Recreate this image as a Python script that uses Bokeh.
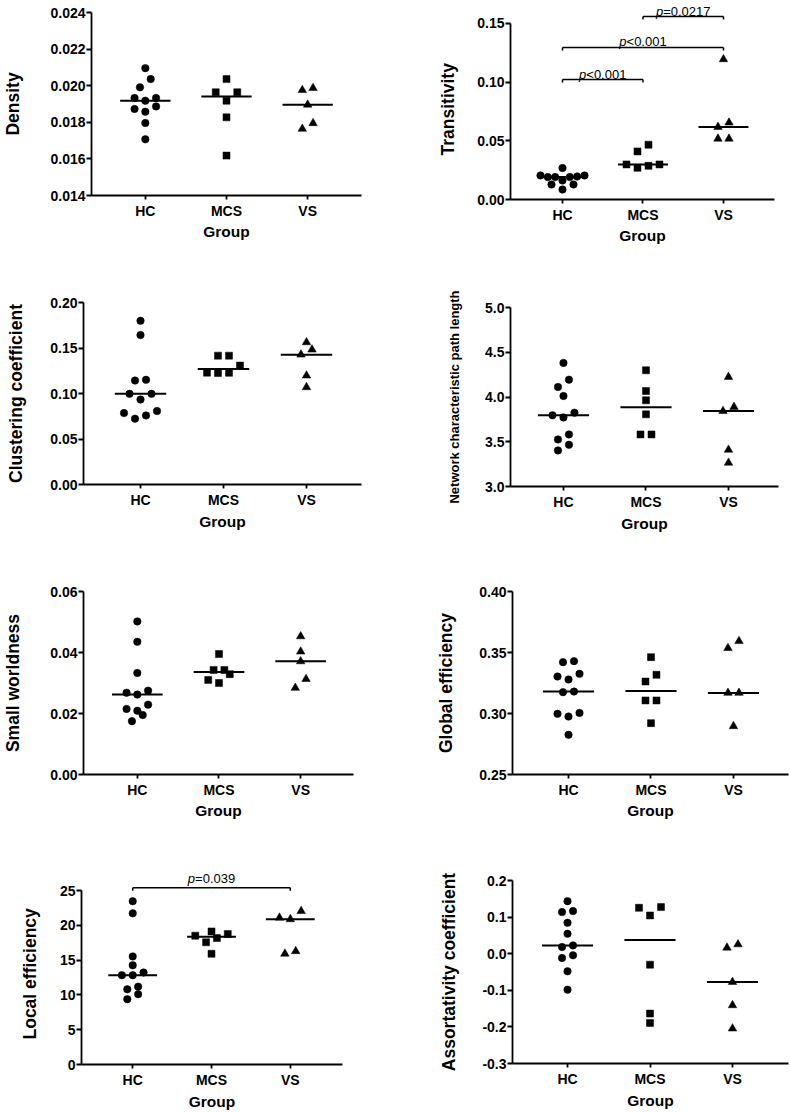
import numpy as np
from bokeh.plotting import figure
from bokeh.layouts import column, row
from bokeh.models import Range1d, FixedTicker, PrintfTickFormatter, Label, Arrow, Title
from bokeh.embed import file_html
from bokeh.resources import INLINE

# ---------------- data ----------------
groups = ["HC", "MCS", "VS"]
group_pos = [1, 2, 3]
x_label = "Group"

density_hc = [0.02096, 0.02036, 0.01991, 0.01933, 0.01918, 0.01933, 0.01887, 0.01873, 0.01858, 0.01796, 0.01707]
density_mcs = [0.02036, 0.01964, 0.01964, 0.01918, 0.01827, 0.01618]
density_vs = [0.01976, 0.01987, 0.01896, 0.01764, 0.01795]
density_ticks = [0.014, 0.016, 0.018, 0.020, 0.022, 0.024]
density_labels = ["0.014", "0.016", "0.018", "0.020", "0.022", "0.024"]

trans_hc = [0.0205, 0.0196, 0.0191, 0.0191, 0.0191, 0.0205, 0.0268, 0.0128, 0.0085, 0.0128, 0.0162]
trans_mcs = [0.0467, 0.0410, 0.0299, 0.0270, 0.0287, 0.0299]
trans_vs = [0.1195, 0.0655, 0.0618, 0.0518, 0.0518]
trans_ticks = [0.00, 0.05, 0.10, 0.15]
trans_labels = ["0.00", "0.05", "0.10", "0.15"]

clust_hc = [0.1799, 0.1642, 0.1142, 0.1150, 0.0996, 0.0996, 0.0934, 0.0785, 0.0807, 0.0723, 0.0759]
clust_mcs = [0.1416, 0.1416, 0.1307, 0.1225, 0.1227, 0.1229]
clust_vs = [0.1562, 0.1482, 0.1427, 0.1197, 0.1069]
clust_ticks = [0.00, 0.05, 0.10, 0.15, 0.20]
clust_labels = ["0.00", "0.05", "0.10", "0.15", "0.20"]

path_hc = [4.381, 4.194, 4.112, 4.011, 3.825, 3.772, 3.795, 3.582, 3.526, 3.466, 3.403]
path_mcs = [4.299, 4.067, 3.963, 3.806, 3.582, 3.582]
path_vs = [4.224, 3.888, 3.843, 3.410, 3.265]
path_ticks = [3.0, 3.5, 4.0, 4.5, 5.0]
path_labels = ["3.0", "3.5", "4.0", "4.5", "5.0"]

sw_hc = [0.0502, 0.0435, 0.0333, 0.0275, 0.0262, 0.0268, 0.0229, 0.0209, 0.0215, 0.0195, 0.0175]
sw_mcs = [0.0395, 0.0343, 0.0343, 0.0329, 0.0300, 0.0310]
sw_vs = [0.0453, 0.0403, 0.0371, 0.0313, 0.0284]
sw_ticks = [0.00, 0.02, 0.04, 0.06]
sw_labels = ["0.00", "0.02", "0.04", "0.06"]

glob_hc = [0.3421, 0.3429, 0.3303, 0.3279, 0.3325, 0.3175, 0.3180, 0.2997, 0.2975, 0.3005, 0.2825]
glob_mcs = [0.3462, 0.3317, 0.3262, 0.3107, 0.3107, 0.2921]
glob_vs = [0.3593, 0.3536, 0.3169, 0.3169, 0.2896]
glob_ticks = [0.25, 0.30, 0.35, 0.40]
glob_labels = ["0.25", "0.30", "0.35", "0.40"]

loc_hc = [23.49, 21.74, 15.55, 14.27, 13.23, 12.85, 12.85, 11.20, 10.82, 10.11, 9.40]
loc_mcs = [18.76, 18.19, 18.53, 19.14, 17.58, 15.93]
loc_vs = [22.07, 21.12, 20.89, 15.93, 16.30]
loc_ticks = [0, 5, 10, 15, 20, 25]
loc_labels = ["0", "5", "10", "15", "20", "25"]

assort_hc = [0.1436, 0.1164, 0.1136, 0.0845, 0.0545, 0.0227, 0.0182, -0.0118, -0.0045, -0.0482, -0.0982]
assort_mcs = [0.1273, 0.1255, 0.1045, -0.0300, -0.1636, -0.1891]
assort_vs = [0.0255, 0.0164, -0.0773, -0.1409, -0.2045]
assort_ticks = [-0.3, -0.2, -0.1, 0.0, 0.1, 0.2]
assort_labels = ["-0.3", "-0.2", "-0.1", "0.0", "0.1", "0.2"]

# significance annotations: (group a, group b, bracket level, text baseline, relation, p text)
trans_sig = [(2, 3, 0.1560, 0.1605, "=", "0.0217"),
             (1, 3, 0.1295, 0.1349, "<", "0.001"),
             (1, 2, 0.1023, 0.1065, "<", "0.001")]
loc_sig = [(1, 3, 25.43, 26.80, "=", "0.039")]

# ---------------- style ----------------
FONT = "Liberation Sans"
markers = ["circle", "square", "triangle"]
msizes = [7.5, 7, 8.5]
W = 395

CHAR_EM = {"p": 0.556, "=": 0.584, "<": 0.584, ".": 0.278}


def text_width(s, fs):
    return sum(CHAR_EM.get(ch, 0.556) for ch in s) * fs


def swarm(vals, ppy, ppx, bin_px=9.0, gap_px=11.0, max_span_px=44.0):
    vals = np.asarray(vals, float)
    order = list(np.argsort(vals, kind="stable"))
    offs = np.zeros(len(vals))
    rows, cur = [], [order[0]]
    for i in order[1:]:
        if (vals[i] - vals[cur[0]]) * ppy <= bin_px:
            cur.append(i)
        else:
            rows.append(cur)
            cur = [i]
    rows.append(cur)
    for r in rows:
        n = len(r)
        s = gap_px if n < 2 else min(gap_px, max_span_px / (n - 1))
        slots = [(k - (n - 1) / 2) * s for k in range(n)]
        slots = sorted(slots, key=lambda v: (abs(v), v))
        for k, pt in enumerate(r):
            offs[pt] = slots[k] / ppx
    return offs


def make_panel(ylabel, series, ticks, labels, fmt, lay, sig=()):
    H = lay["h"]
    fl, fr, ft, fb = lay["b"]
    xl, xr = lay["xr"]
    y0, y1 = ticks[0], lay.get("ytop", ticks[-1])
    fw, fh = W - fl - fr, H - ft - fb
    p = figure(width=W, height=H, x_range=Range1d(xl, xr), y_range=Range1d(y0, y1),
               output_backend="svg", toolbar_location=None,
               min_border_left=fl, min_border_right=fr, min_border_top=ft, min_border_bottom=fb,
               background_fill_color="white", border_fill_color="white")
    p.outline_line_color = None
    p.xgrid.visible = False
    p.ygrid.visible = False
    ppx = fw / (xr - xl)
    ppy = fh / (y1 - y0)

    for gi, vals in enumerate(series):
        c = group_pos[gi]
        offs = swarm(vals, ppy, ppx)
        p.scatter(x=c + offs, y=vals, marker=markers[gi], size=msizes[gi],
                  fill_color="black", line_color="black", line_width=0.5)
        m = float(np.median(vals))
        p.segment(x0=[c - 0.31], y0=[m], x1=[c + 0.31], y1=[m], line_color="black", line_width=2)

    drop = 3.0 / ppy
    for (a, b, lvl, tb, rel, num) in sig:
        for (xs0, ys0, xs1, ys1) in ((a, lvl - drop, a, lvl), (a, lvl, b, lvl), (b, lvl, b, lvl - drop)):
            p.add_layout(Arrow(x_start=xs0, y_start=ys0, x_end=xs1, y_end=ys1, end=None,
                               line_color="black", line_width=1.5))
        xc = (a + b) / 2
        full = "p" + rel + num
        off = -text_width(full, 13) / 2 + text_width("p", 13)
        p.add_layout(Label(x=xc, y=tb, text="p", text_font=FONT, text_font_size="13px",
                           text_font_style="italic", text_align="right", text_baseline="alphabetic",
                           x_offset=off, text_color="black"))
        p.add_layout(Label(x=xc, y=tb, text=rel + num, text_font=FONT, text_font_size="13px",
                           text_font_style="normal", text_align="left", text_baseline="alphabetic",
                           x_offset=off, text_color="black"))

    for ax in (p.xaxis[0], p.yaxis[0]):
        ax.axis_line_width = 1.8
        ax.axis_line_color = "black"
        ax.major_tick_line_width = 1.8
        ax.major_tick_line_color = "black"
        ax.major_tick_in = 0
        ax.minor_tick_line_color = None
        ax.major_label_text_font = FONT
        ax.major_label_text_font_style = "bold"
        ax.major_label_text_font_size = "14px"
        ax.major_label_text_color = "black"
        ax.axis_label_text_font = FONT
        ax.axis_label_text_font_style = "bold"
        ax.axis_label_text_color = "black"

    xa = p.xaxis[0]
    xa.ticker = FixedTicker(ticks=group_pos)
    xa.major_label_overrides = {g: t for g, t in zip(group_pos, groups)}
    xa.major_tick_out = 4
    xa.major_label_standoff = 3
    xa.axis_label = x_label
    xa.axis_label_text_font_size = "15.5px"
    xa.axis_label_standoff = lay["xs"]

    ya = p.yaxis[0]
    ya.ticker = FixedTicker(ticks=ticks)
    ya.formatter = PrintfTickFormatter(format=fmt)
    ya.major_label_overrides = {t: l for t, l in zip(ticks, labels)}
    ya.major_tick_out = 5
    ya.major_label_standoff = 1
    ya.bounds = (ticks[0], ticks[-1])
    if "toff" in lay:
        # y title placed as a side title so that it sits along the axis span, not the taller frame
        ya.axis_label = None
        p.add_layout(Title(text=ylabel, align="left", offset=lay["toff"], standoff=lay["tso"],
                           text_font=FONT, text_font_size="17.5px", text_font_style="bold",
                           text_color="black"), "left")
    else:
        ya.axis_label = ylabel
        ya.axis_label_text_font_size = lay.get("yfs", "17.5px")
        ya.axis_label_standoff = lay["ys"]
    return p


p1 = make_panel("Density", [density_hc, density_mcs, density_vs], density_ticks, density_labels, "%.3f",
                dict(h=280, b=(85, 34, 12, 85), xr=(0.337, 3.663), xs=1, ys=24))
p2 = make_panel("Transitivity", [trans_hc, trans_mcs, trans_vs], trans_ticks, trans_labels, "%.2f",
                dict(h=280, b=(115, 16, 0, 81), xr=(0.354, 3.634), xs=1, ytop=0.1696, toff=44, tso=34),
                sig=trans_sig)
p3 = make_panel("Clustering coefficient", [clust_hc, clust_mcs, clust_vs], clust_ticks, clust_labels, "%.2f",
                dict(h=280, b=(83, 34, 22, 76), xr=(0.313, 3.663), xs=2, ys=21))
p4 = make_panel("Network characteristic path length", [path_hc, path_mcs, path_vs], path_ticks, path_labels,
                "%.1f",
                dict(h=280, b=(115, 12, 27, 74), xr=(0.358, 3.606), xs=2, ys=20, yfs="13px"))
p5 = make_panel("Small worldness", [sw_hc, sw_mcs, sw_vs], sw_ticks, sw_labels, "%.2f",
                dict(h=270, b=(77, 42, 31, 56), xr=(0.341, 3.647), xs=1, ys=24))
p6 = make_panel("Global efficiency", [glob_hc, glob_mcs, glob_vs], glob_ticks, glob_labels, "%.2f",
                dict(h=270, b=(117, 2, 31, 56), xr=(0.321, 3.667), xs=1, ys=20))
p7 = make_panel("Local efficiency", [loc_hc, loc_mcs, loc_vs], loc_ticks, loc_labels, "%d",
                dict(h=282, b=(77, 53, 0, 45), xr=(0.35, 3.6625), xs=2, ytop=33.66, toff=25, tso=34),
                sig=loc_sig)
p8 = make_panel("Assortativity coefficient", [assort_hc, assort_mcs, assort_vs], assort_ticks, assort_labels,
                "%.1f",
                dict(h=282, b=(117, 2, 50, 49), xr=(0.333, 3.679), xs=2, ys=20))

layout = column(row(column(p1), column(p2)), row(column(p3), column(p4)),
                row(column(p5), column(p6)), row(column(p7), column(p8)))
open("out.html", "w").write(file_html(layout, INLINE))
